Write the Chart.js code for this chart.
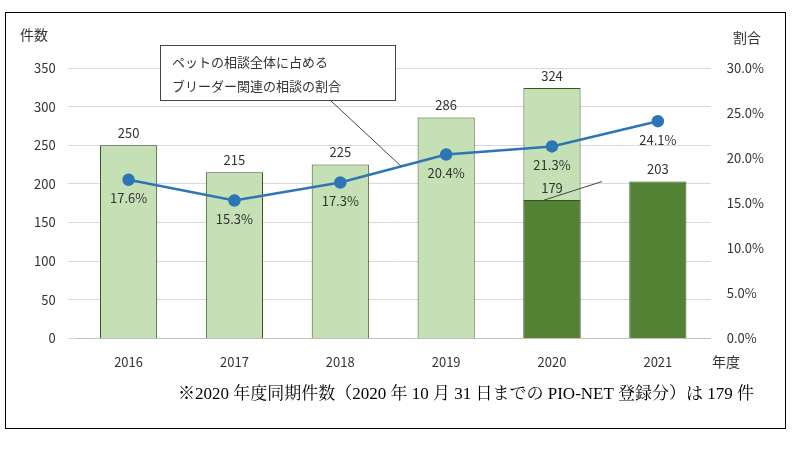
<!DOCTYPE html><html><head><meta charset="utf-8">
<script src="https://cdn.jsdelivr.net/npm/chart.js@4"></script>
<style>body{margin:0;background:#fff}#w{position:absolute;left:0;top:0;width:800px;height:450px}</style></head><body>
<div id="w"><canvas id="c" width="800" height="450"></canvas></div>
<script>
const years=['2016','2017','2018','2019','2020','2021'];
const fullYear=[250,215,225,286,324,null];
const samePeriod=[null,null,null,null,179,203];
const ratio=[17.6,15.3,17.3,20.4,21.3,24.1];
const countTicks=[0,50,100,150,200,250,300,350];
const F='"Noto Sans CJK JP", "Noto Sans", sans-serif';
const deco={id:'deco',afterDraw(ch){
 const c=ch.ctx,x=ch.scales.x,y=ch.scales.y,y2=ch.scales.y2;
 c.save();
 c.strokeStyle='#000';c.lineWidth=1;c.strokeRect(5.5,12.5,780,416);
 c.fillStyle='#333';c.font='14px '+F;c.textAlign='left';c.textBaseline='middle';
 c.fillText('件数',20,35);c.fillText('割合',733,38);c.fillText('年度',712,362);
 c.font='17px "Liberation Serif","Noto Serif CJK JP",serif';c.fillStyle='#000';
 c.fillText('※2020 年度同期件数（2020 年 10 月 31 日までの PIO-NET 登録分）は 179 件',178,395);
 c.font='13px '+F;c.fillStyle='#333';c.textAlign='center';c.textBaseline='bottom';
 fullYear.forEach((v,i)=>{if(v!=null)c.fillText(v,x.getPixelForValue(i),y.getPixelForValue(v)-6);});
 samePeriod.forEach((v,i)=>{if(v!=null)c.fillText(v,x.getPixelForValue(i),y.getPixelForValue(v)-6);});
 c.textBaseline='top';
 ratio.forEach((v,i)=>{c.fillText(v.toFixed(1)+'%',x.getPixelForValue(i),y2.getPixelForValue(v)+12);});
 c.strokeStyle='#444';c.lineWidth=1;
 c.beginPath();c.moveTo(330,100);c.lineTo(x.getPixelForValue(3)-45,y2.getPixelForValue(19.1));c.stroke();
 c.fillStyle='#fff';c.fillRect(160,45,235,55);c.strokeRect(160.5,45.5,235,55);
 c.fillStyle='#333';c.textAlign='left';c.textBaseline='middle';
 c.fillText('ペットの相談全体に占める',172,62);c.fillText('ブリーダー関連の相談の割合',172,86);
 c.beginPath();c.moveTo(x.getPixelForValue(4)-8,y.getPixelForValue(179));c.lineTo(x.getPixelForValue(4)+50,y.getPixelForValue(203));c.stroke();
 c.restore();}};
new Chart(document.getElementById('c'),{
 data:{labels:years,datasets:[
  {type:'line',data:ratio,yAxisID:'y2',borderColor:'#2e75b6',backgroundColor:'#2e75b6',borderWidth:2.5,pointRadius:5,pointBackgroundColor:'#2e75b6',order:0},
  {type:'bar',data:samePeriod,backgroundColor:'#548235',borderColor:'#375623',borderWidth:1,barPercentage:0.54,categoryPercentage:1,grouped:false,order:1},
  {type:'bar',data:fullYear,backgroundColor:'#c5e0b4',borderColor:'#375623',borderWidth:1,barPercentage:0.54,categoryPercentage:1,grouped:false,order:2}]},
 options:{responsive:false,animation:false,
  layout:{padding:{left:22,right:28,top:68,bottom:72}},
  plugins:{legend:{display:false},tooltip:{enabled:false}},
  scales:{
   x:{grid:{display:false},border:{color:'#bfbfbf'},ticks:{color:'#333',font:{size:13,family:F},padding:8}},
   y:{min:0,max:350,afterBuildTicks:a=>{a.ticks=countTicks.map(v=>({value:v}));},grid:{color:'#d9d9d9'},border:{display:false},ticks:{color:'#333',font:{size:13,family:F},padding:12}},
   y2:{position:'right',min:0,max:30,ticks:{stepSize:5,color:'#333',font:{size:13,family:F},padding:8,callback:v=>v.toFixed(1)+'%'},grid:{display:false},border:{display:false}}}},
 plugins:[deco]});
</script></body></html>
